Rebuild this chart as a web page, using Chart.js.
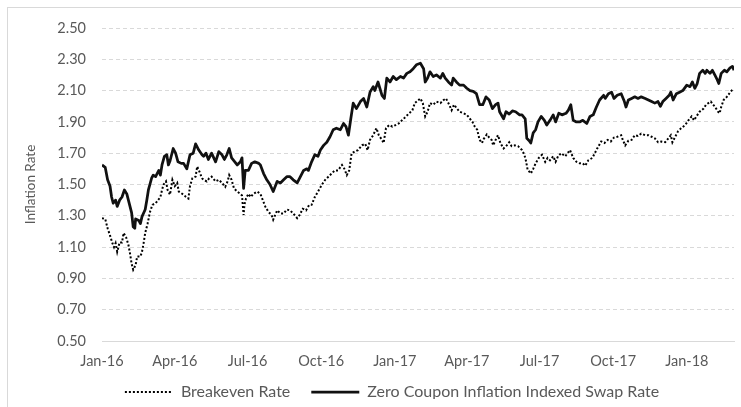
<!DOCTYPE html>
<html>
<head>
<meta charset="utf-8">
<script src="https://cdn.jsdelivr.net/npm/chart.js@4.4.1/dist/chart.umd.min.js"></script>
<style>
  html, body { margin: 0; padding: 0; background: #fff; overflow: hidden; }
  #wrap { position: relative; width: 785px; height: 407px; }
  #frame { position: absolute; left: 7px; top: 7px; width: 771px; height: 420px; border: 1px solid #d9d9d9; }
  #chart { position: absolute; left: 0; top: 0; }
</style>
</head>
<body>
<div id="wrap">
  <div id="frame"></div>
  <canvas id="chart" width="785" height="407"></canvas>
</div>
<script>
// days counted from 1 Jan 2016
const tickDays = [0, 91, 182, 274, 366, 456, 547, 639, 731];
const tickLabels = ['Jan-16', 'Apr-16', 'Jul-16', 'Oct-16', 'Jan-17', 'Apr-17', 'Jul-17', 'Oct-17', 'Jan-18'];

// Zero Coupon Inflation Indexed Swap Rate
const swapDay = [0, 4, 7, 10, 12, 14, 17, 19, 22, 25, 28, 31, 33, 37, 39, 41, 42, 46, 48, 50,
  54, 56, 58, 62, 64, 67, 71, 73, 75, 78, 81, 83, 85, 89, 92, 95, 99, 102, 106, 110,
  114, 117, 121, 125, 127, 130, 133, 137, 142, 146, 150, 153, 156, 159, 162, 166, 169, 173, 175, 177,
  179, 183, 187, 191, 196, 198, 202, 206, 210, 214, 219, 223, 227, 231, 235, 239, 244, 248, 252, 256,
  258, 262, 266, 270, 273, 277, 281, 285, 289, 293, 298, 302, 305, 308, 311, 314, 318, 323, 327, 331,
  335, 339, 341, 345, 350, 353, 356, 360, 364, 368, 373, 377, 381, 385, 389, 393, 398, 402, 404, 407,
  410, 414, 418, 423, 426, 429, 433, 437, 439, 443, 447, 452, 456, 460, 464, 468, 472, 476, 480, 484,
  488, 492, 495, 497, 502, 505, 509, 513, 517, 522, 525, 529, 531, 534, 536, 539, 542, 545, 549, 553,
  556, 560, 564, 567, 571, 575, 580, 583, 586, 589, 593, 597, 601, 606, 610, 614, 618, 622, 627, 629,
  633, 637, 640, 644, 649, 653, 655, 658, 662, 666, 670, 674, 679, 683, 687, 691, 695, 698, 701, 705,
  709, 711, 714, 718, 722, 726, 731, 735, 738, 741, 744, 747, 751, 754, 756, 760, 763, 766, 769, 771,
  774, 778, 781, 785, 788, 790];
const swapRate = [1.625, 1.61, 1.53, 1.49, 1.42, 1.38, 1.40, 1.36, 1.40, 1.42, 1.465, 1.44, 1.40, 1.32, 1.23, 1.22, 1.28, 1.27, 1.25, 1.295,
  1.34, 1.40, 1.465, 1.54, 1.56, 1.55, 1.59, 1.56, 1.625, 1.68, 1.69, 1.625, 1.65, 1.73, 1.70, 1.645, 1.635, 1.635, 1.60, 1.69,
  1.70, 1.76, 1.72, 1.69, 1.68, 1.70, 1.66, 1.70, 1.645, 1.71, 1.69, 1.66, 1.69, 1.73, 1.67, 1.645, 1.625, 1.645, 1.67, 1.475,
  1.59, 1.59, 1.635, 1.645, 1.635, 1.625, 1.57, 1.53, 1.50, 1.455, 1.52, 1.51, 1.53, 1.55, 1.55, 1.53, 1.51, 1.55, 1.59, 1.60,
  1.59, 1.645, 1.69, 1.68, 1.72, 1.75, 1.77, 1.805, 1.85, 1.86, 1.85, 1.89, 1.87, 1.815, 1.92, 2.02, 1.985, 2.03, 2.05, 1.995,
  2.09, 2.125, 2.10, 2.155, 2.07, 2.05, 2.18, 2.155, 2.19, 2.17, 2.19, 2.18, 2.21, 2.22, 2.24, 2.265, 2.275, 2.24, 2.155, 2.18,
  2.22, 2.19, 2.20, 2.18, 2.21, 2.18, 2.155, 2.135, 2.18, 2.155, 2.135, 2.135, 2.115, 2.10, 2.095, 2.08, 2.01, 2.01, 2.06, 2.04,
  1.985, 2.01, 2.02, 1.965, 1.92, 1.965, 1.95, 1.97, 1.965, 1.945, 1.945, 1.92, 1.795, 1.78, 1.765, 1.83, 1.85, 1.90, 1.935, 1.91,
  1.88, 1.91, 1.945, 1.90, 1.955, 1.945, 1.955, 1.975, 2.01, 1.91, 1.90, 1.90, 1.91, 1.89, 1.935, 1.945, 1.995, 2.04, 2.07, 2.05,
  2.08, 2.09, 2.05, 2.07, 2.08, 2.03, 1.995, 2.04, 2.05, 2.06, 2.05, 2.06, 2.05, 2.04, 2.03, 2.02, 2.03, 2.00, 2.03, 2.05,
  2.07, 2.09, 2.04, 2.08, 2.09, 2.10, 2.135, 2.125, 2.155, 2.115, 2.145, 2.21, 2.23, 2.21, 2.23, 2.21, 2.23, 2.20, 2.17, 2.145,
  2.21, 2.23, 2.22, 2.245, 2.255, 2.23];

// Breakeven Rate
const beDay = [0, 4, 7, 10, 13, 15, 17, 19, 22, 25, 27, 30, 33, 35, 37, 39, 42, 44, 48, 50,
  52, 54, 57, 60, 63, 67, 70, 73, 75, 77, 80, 82, 85, 88, 91, 94, 96, 99, 102, 105,
  108, 110, 113, 117, 119, 122, 125, 127, 131, 134, 137, 142, 146, 150, 154, 157, 159, 162, 165, 169,
  173, 175, 177, 178, 180, 183, 186, 189, 194, 198, 201, 204, 208, 212, 214, 219, 223, 227, 231, 235,
  239, 244, 247, 251, 255, 259, 262, 266, 270, 275, 279, 283, 287, 291, 295, 300, 303, 306, 309, 312,
  316, 320, 325, 329, 332, 335, 339, 343, 346, 350, 352, 355, 359, 363, 367, 371, 375, 380, 384, 388,
  391, 398, 401, 404, 407, 410, 414, 418, 423, 427, 430, 434, 437, 440, 443, 447, 452, 456, 460, 463,
  466, 469, 472, 475, 477, 481, 484, 487, 489, 492, 495, 498, 502, 506, 509, 512, 516, 520, 525, 528,
  530, 532, 536, 539, 542, 546, 550, 554, 557, 560, 564, 567, 570, 574, 579, 582, 585, 589, 593, 597,
  601, 604, 608, 613, 616, 619, 624, 628, 632, 636, 640, 644, 649, 651, 654, 658, 662, 666, 670, 674,
  679, 683, 687, 691, 695, 699, 704, 708, 711, 713, 716, 720, 724, 729, 733, 737, 740, 743, 747, 752,
  755, 758, 761, 764, 767, 770, 772, 774, 777, 781, 784, 787, 790];
const beRate = [1.285, 1.28, 1.22, 1.175, 1.125, 1.10, 1.125, 1.07, 1.13, 1.13, 1.19, 1.165, 1.115, 1.06, 0.995, 0.955, 0.985, 1.04, 1.04, 1.07,
  1.125, 1.19, 1.25, 1.325, 1.37, 1.38, 1.40, 1.42, 1.465, 1.50, 1.52, 1.465, 1.435, 1.53, 1.49, 1.51, 1.455, 1.445, 1.435, 1.42,
  1.41, 1.49, 1.54, 1.55, 1.615, 1.58, 1.54, 1.53, 1.52, 1.54, 1.55, 1.52, 1.53, 1.51, 1.485, 1.52, 1.56, 1.53, 1.475, 1.455,
  1.44, 1.43, 1.305, 1.37, 1.41, 1.44, 1.42, 1.44, 1.455, 1.44, 1.40, 1.36, 1.325, 1.305, 1.275, 1.335, 1.315, 1.315, 1.34, 1.335,
  1.315, 1.285, 1.305, 1.345, 1.335, 1.37, 1.37, 1.42, 1.455, 1.50, 1.53, 1.55, 1.57, 1.59, 1.59, 1.625, 1.60, 1.56, 1.59, 1.70,
  1.71, 1.72, 1.75, 1.76, 1.72, 1.785, 1.815, 1.86, 1.815, 1.785, 1.765, 1.86, 1.88, 1.87, 1.88, 1.89, 1.91, 1.935, 1.955, 1.975,
  2.02, 2.05, 2.02, 1.935, 1.965, 2.02, 2.01, 2.03, 2.02, 2.04, 2.05, 2.01, 1.975, 2.01, 1.99, 1.965, 1.955, 1.945, 1.92, 1.90,
  1.87, 1.85, 1.785, 1.765, 1.79, 1.82, 1.80, 1.785, 1.75, 1.785, 1.815, 1.765, 1.73, 1.75, 1.77, 1.745, 1.75, 1.745, 1.72, 1.69,
  1.65, 1.595, 1.57, 1.60, 1.635, 1.67, 1.69, 1.645, 1.67, 1.655, 1.68, 1.645, 1.68, 1.70, 1.68, 1.70, 1.72, 1.67, 1.645, 1.635,
  1.635, 1.62, 1.655, 1.67, 1.70, 1.73, 1.775, 1.765, 1.785, 1.775, 1.80, 1.805, 1.815, 1.785, 1.75, 1.78, 1.785, 1.815, 1.81, 1.825,
  1.815, 1.815, 1.805, 1.795, 1.77, 1.775, 1.77, 1.795, 1.815, 1.77, 1.80, 1.84, 1.86, 1.88, 1.91, 1.935, 1.91, 1.935, 1.965, 1.985,
  2.01, 2.02, 2.03, 2.01, 1.99, 1.965, 1.955, 1.995, 2.04, 2.06, 2.08, 2.10, 2.09];

const textColor = '#595959';
const gridColor = '#d9d9d9';
Chart.defaults.font.family = 'Lato';

const toPoints = (days, vals) => days.map((d, i) => ({ x: d, y: vals[i] }));

// legend in the original sits a bit right of centre and close under the axis labels
const legendShift = {
  id: 'legendShift',
  afterLayout(chart) {
    const lg = chart.legend;
    lg.left += 25;
    lg.right += 25;
    lg.top -= 8;
    lg.bottom -= 8;
  }
};

new Chart(document.getElementById('chart').getContext('2d'), {
  type: 'line',
  data: {
    datasets: [
      {
        label: 'Breakeven Rate',
        data: toPoints(beDay, beRate),
        borderColor: '#000',
        borderWidth: 2,
        borderDash: [2, 2],
        pointRadius: 0,
        tension: 0
      },
      {
        label: 'Zero Coupon Inflation Indexed Swap Rate',
        data: toPoints(swapDay, swapRate),
        borderColor: '#111',
        borderWidth: 2.75,
        borderJoinStyle: 'round',
        pointRadius: 0,
        tension: 0
      }
    ]
  },
  plugins: [legendShift],
  options: {
    responsive: false,
    animation: false,
    layout: { padding: { left: 0, right: 51, top: 28, bottom: 0 } },
    plugins: {
      tooltip: { enabled: false },
      legend: {
        position: 'bottom',
        maxHeight: 36,
        labels: {
          color: textColor,
          font: { size: 16 },
          usePointStyle: true,
          pointStyle: 'line',
          pointStyleWidth: 48,
          padding: 21,
          generateLabels: (chart) =>
            Chart.defaults.plugins.legend.labels.generateLabels(chart).map((item, i) => {
              const ds = chart.data.datasets[i];
              return { ...item, pointStyle: 'line', lineDash: ds.borderDash || [], lineWidth: ds.borderWidth, strokeStyle: ds.borderColor };
            })
        }
      }
    },
    scales: {
      x: {
        type: 'linear',
        min: 0,
        max: 790,
        afterFit: (scale) => { scale.height = 30; },
        afterBuildTicks: (scale) => { scale.ticks = tickDays.map(v => ({ value: v })); },
        grid: { display: false, drawTicks: false },
        border: { display: true, color: gridColor, width: 1 },
        ticks: {
          color: textColor,
          font: { size: 14.5 },
          padding: 12,
          autoSkip: false,
          maxRotation: 0,
          callback: (v) => tickLabels[tickDays.indexOf(v)]
        }
      },
      y: {
        min: 0.5,
        max: 2.5,
        afterFit: (scale) => { scale.width = 102; },
        grid: { color: gridColor, drawTicks: false },
        border: { display: false, dash: [4, 3] },
        ticks: {
          stepSize: 0.2,
          color: textColor,
          font: { size: 14.5 },
          padding: 16,
          callback: (v) => v.toFixed(2)
        },
        title: {
          display: true,
          text: 'Inflation Rate',
          color: textColor,
          font: { size: 13.5 },
          padding: { top: 23, bottom: 0 }
        }
      }
    }
  }
});
</script>
</body>
</html>
